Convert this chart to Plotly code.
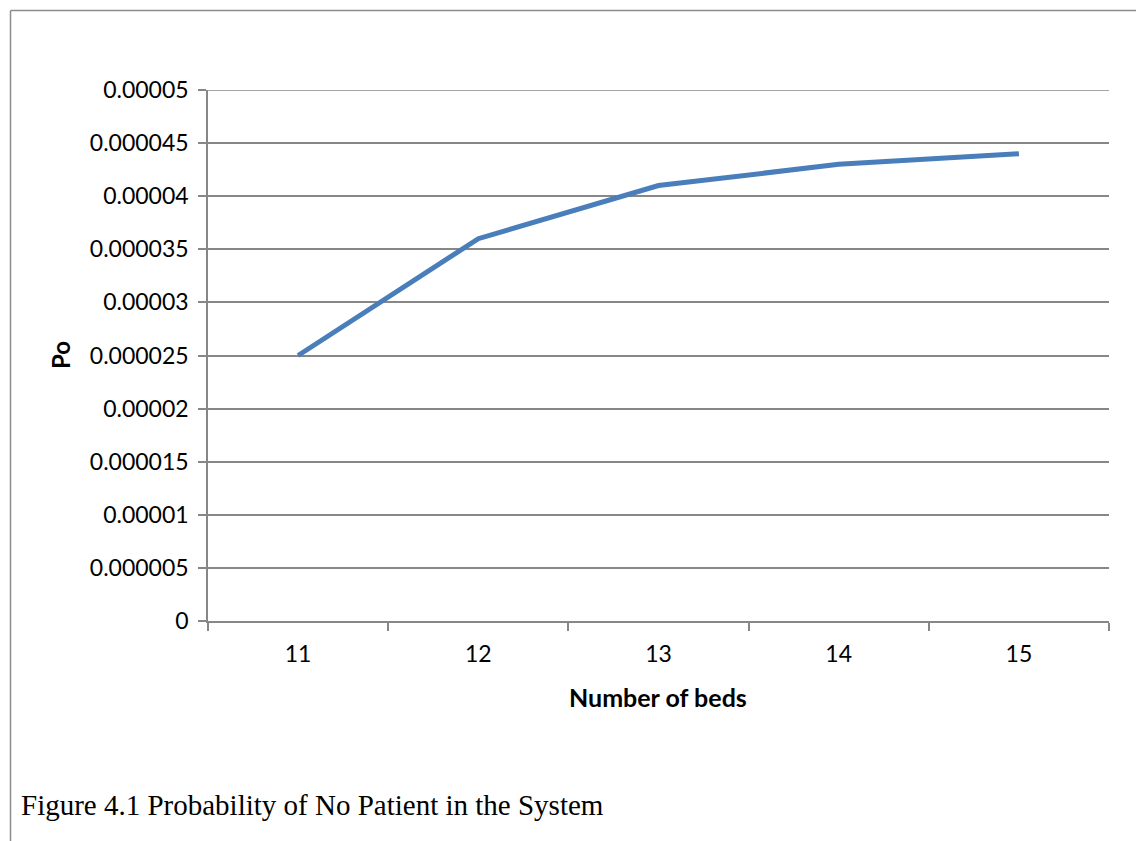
import plotly.graph_objects as go

beds = ["11", "12", "13", "14", "15"]
po = [0.000025, 0.000036, 0.000041, 0.000043, 0.000044]
y_tickvals = [0, 0.000005, 0.00001, 0.000015, 0.00002, 0.000025, 0.00003,
              0.000035, 0.00004, 0.000045, 0.00005]
y_ticktext = ["0", "0.000005", "0.00001", "0.000015", "0.00002", "0.000025",
              "0.00003", "0.000035", "0.00004", "0.000045", "0.00005"]

W, H = 1136, 841
L, R, T, B = 208, 1109, 90, 621
pw, ph = R - L, B - T

def px(x):
    return (x - L) / pw

def py(y):
    return (B - y) / ph

fig = go.Figure()
fig.add_trace(go.Scatter(
    x=beds, y=po, mode="lines",
    line=dict(color="#4A7EBB", width=5),
    hoverinfo="skip", showlegend=False,
))

gray = "#878787"
fig.update_layout(
    width=W, height=H,
    margin=dict(l=L, r=W - R, t=T, b=H - B),
    paper_bgcolor="white", plot_bgcolor="white",
    font=dict(family="Lato, Calibri, sans-serif", size=23, color="black"),
    xaxis=dict(
        type="category", tickson="boundaries", range=[-0.5, 4.5],
        showgrid=False, showline=True, linecolor=gray, linewidth=1.5,
        ticks="outside", ticklen=8, tickcolor=gray, tickwidth=1.5,
        tickfont=dict(size=23), zeroline=False, fixedrange=True,
        ticklabelstandoff=12,
    ),
    yaxis=dict(
        range=[0, 0.00005], tickvals=y_tickvals, ticktext=y_ticktext,
        showgrid=True, gridcolor=gray, gridwidth=1.5,
        showline=True, linecolor=gray, linewidth=1.5,
        ticks="outside", ticklen=8, tickcolor=gray, tickwidth=1.5,
        tickfont=dict(size=23), zeroline=False, fixedrange=True,
        ticklabelstandoff=5,
    ),
    annotations=[
        dict(text="<b>Number of beds</b>", x=px(658), y=py(697), xref="paper", yref="paper",
             showarrow=False, xanchor="center", yanchor="middle",
             font=dict(size=25, family="Lato, Calibri, sans-serif")),
        dict(text="<b>Po</b>", x=px(60), y=py(355), xref="paper", yref="paper",
             showarrow=False, xanchor="center", yanchor="middle", textangle=-90,
             font=dict(size=24, family="Lato, Calibri, sans-serif")),
        dict(text="Figure 4.1 Probability of No Patient in the System", x=px(19), y=py(805),
             xref="paper", yref="paper", showarrow=False, xanchor="left", yanchor="middle",
             font=dict(size=29, family="Liberation Serif, Times New Roman, serif")),
    ],
    shapes=[
        dict(type="line", xref="paper", yref="y", x0=px(200), x1=1,
             y0=0.00005, y1=0.00005, line=dict(color=gray, width=1.5), layer="below"),
        dict(type="line", xref="paper", yref="paper", x0=px(10.5), x1=px(1140),
             y0=py(10.5), y1=py(10.5), line=dict(color="#8c8c8c", width=1.5)),
        dict(type="line", xref="paper", yref="paper", x0=px(10.5), x1=px(10.5),
             y0=py(10.5), y1=py(845), line=dict(color="#8c8c8c", width=1.5)),
    ],
)

fig.write_html("out.html", config={"displayModeBar": False})
